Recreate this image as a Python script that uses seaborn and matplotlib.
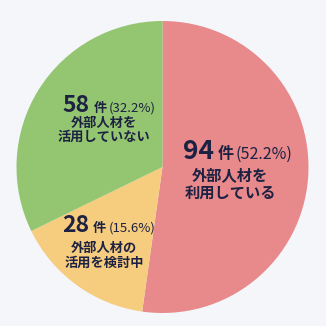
import matplotlib
matplotlib.use("Agg")
import matplotlib.pyplot as plt
import seaborn as sns

# データ
labels = ["外部人材を\n利用している", "外部人材の\n活用を検討中", "外部人材を\n活用していない"]
counts = [94, 28, 58]
percents = [52.2, 15.6, 32.2]
colors = ["#e8898b", "#f6cc7f", "#94c672"]

# ラベルの配置 (データ座標): 見出しの左端, ベースライン, 本文の中心x, 各行のy
layout = [
    dict(x=0.140, y=0.055, cx=0.462, ly=[-0.055, -0.178], big=19, small=11.5, body=11),
    dict(x=-0.688, y=-0.445, cx=-0.401, ly=[-0.555, -0.658], big=16.5, small=9.5, body=9.5),
    dict(x=-0.682, y=0.377, cx=-0.401, ly=[0.301, 0.205], big=16.5, small=9.5, body=9.5),
]

sns.set_theme(style="white")
plt.rcParams["font.family"] = ["Noto Sans CJK JP", "DejaVu Sans"]
ink = "#1d2142"

fig = plt.figure(figsize=(3.26, 3.26), dpi=100, facecolor="#f4f6fa")
ax = fig.add_axes([0.0506, 0.0399, 0.8957, 0.8957])
ax.pie(counts, colors=colors, startangle=90, counterclock=False,
       wedgeprops=dict(linewidth=0))
ax.set_xlim(-1, 1)
ax.set_ylim(-1, 1)
ax.set_aspect("equal")
ax.axis("off")

fig.canvas.draw()
renderer = fig.canvas.get_renderer()
inv = ax.transData.inverted()


def after(t, gap_px):
    bb = t.get_window_extent(renderer)
    return inv.transform((bb.x1 + gap_px, bb.y0))[0]


for n, p, lab, lo in zip(counts, percents, labels, layout):
    t1 = ax.text(lo["x"], lo["y"], str(n), fontsize=lo["big"], fontweight="bold",
                 color=ink, va="baseline", ha="left")
    t2 = ax.text(after(t1, 4), lo["y"], "件", fontsize=lo["small"], fontweight="bold",
                 color=ink, va="baseline", ha="left")
    ax.text(after(t2, 2), lo["y"], f"({p}%)", fontsize=lo["small"],
            color=ink, va="baseline", ha="left")
    for line, yy in zip(lab.split("\n"), lo["ly"]):
        ax.text(lo["cx"], yy, line, fontsize=lo["body"], fontweight="bold",
                color=ink, va="center", ha="center")

fig.savefig("out.png", dpi=100, facecolor=fig.get_facecolor())
